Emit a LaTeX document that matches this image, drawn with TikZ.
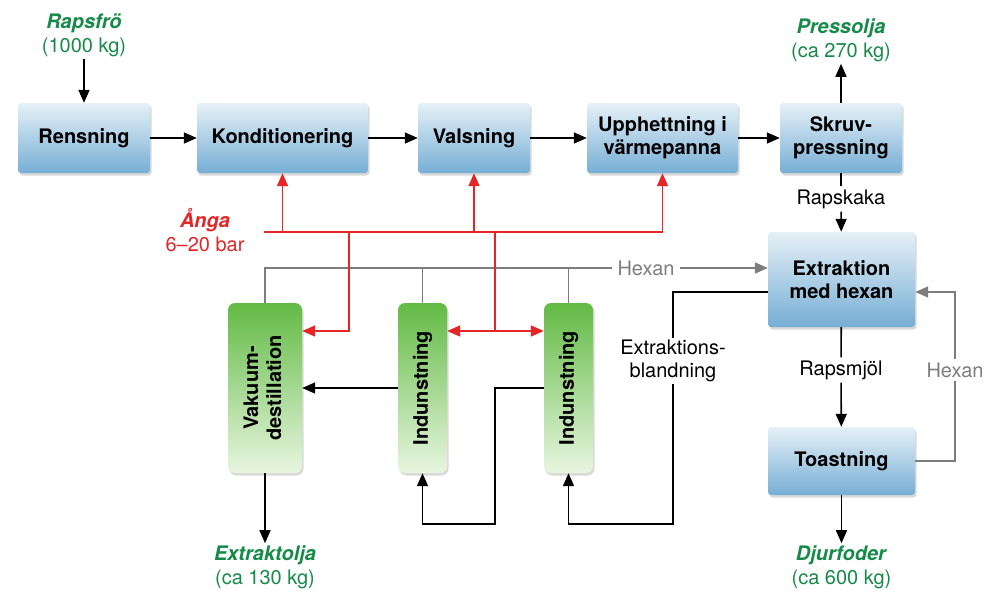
\documentclass[tikz,border=0pt]{standalone}
\usepackage{fontspec}
\setmainfont{TeX Gyre Heros}
\usepackage{graphicx}
\usetikzlibrary{%
    arrows.meta,%
    calc,%
    shadows%
}

\definecolor{boxtop}{RGB}{230,241,248}
\definecolor{boxbot}{RGB}{118,174,212}
\definecolor{grtop}{RGB}{98,186,68}
\definecolor{grmid}{RGB}{125,200,100}
\definecolor{grbot}{RGB}{232,246,224}
\definecolor{prodgreen}{RGB}{22,138,72}
\definecolor{steamred}{RGB}{228,38,38}
\definecolor{hexgray}{RGB}{125,125,125}

\tikzset{
    steg/.style = {top color=boxtop, bottom color=boxbot, rounded corners=3pt,
        minimum height=70, inner sep=0pt, align=center,
        font=\fontsize{20}{23}\selectfont\bfseries,
        drop shadow={opacity=0.3, shadow xshift=1.5pt, shadow yshift=-2.5pt}},
    kolonn/.style = {top color=grtop, middle color=grmid, bottom color=grbot, rounded corners=7pt,
        minimum height=170, inner sep=0pt,
        font=\fontsize{20}{23}\selectfont\bfseries,
        drop shadow={opacity=0.3, shadow xshift=1.5pt, shadow yshift=-2.5pt}},
    produkt/.style = {text=prodgreen, align=center, inner sep=2pt,
        font=\fontsize{20}{24}\selectfont},
    etikett/.style = {align=center, inner sep=3pt, font=\fontsize{20}{23}\selectfont},
    flode/.style = {draw=black, line width=1.6pt},
    hexlinje/.style = {draw=hexgray, line width=1.6pt},
    angledning/.style = {draw=steamred, line width=1.6pt}
}

\begin{document}
\begin{tikzpicture}[x=1pt, y=-1pt, >={Triangle[length=13pt,width=11pt]}]
\useasboundingbox (0,0) rectangle (986,592);

%processteg
\node[steg, minimum width=132] (rensning) at (84,138) {Rensning};
\node[steg, minimum width=171] (kond) at (282.5,138) {Konditionering};
\node[steg, minimum width=112] (valsning) at (474,138) {Valsning};
\node[steg, minimum width=151] (upph) at (662.5,138) {Upphettning i\\värmepanna};
\node[steg, minimum width=122] (skruv) at (841,138) {Skruv-\\pressning};
\node[steg, minimum width=147, minimum height=95] (extr) at (841.5,279.5) {Extraktion\\med hexan};
\node[steg, minimum width=147, minimum height=68] (toast) at (841.5,461) {Toastning};

%kolonner
\node[kolonn, minimum width=74] (vakuum) at (265,388) {\rotatebox{90}{\begin{tabular}{@{}c@{}}Vakuum-\\destillation\end{tabular}}};
\node[kolonn, minimum width=49] (indun1) at (422.5,388) {\rotatebox{90}{Indunstning}};
\node[kolonn, minimum width=49] (indun2) at (568.5,388) {\rotatebox{90}{Indunstning}};

%in och ut
\node[produkt] (rapsfro) at (84,35) {\textbf{\textit{Rapsfrö}}\\(1000 kg)};
\node[produkt] (pressolja) at (841,40) {\textbf{\textit{Pressolja}}\\(ca 270 kg)};
\node[produkt] (extraktolja) at (265,567) {\textbf{\textit{Extraktolja}}\\(ca 130 kg)};
\node[produkt] (djurfoder) at (841.5,567) {\textbf{\textit{Djurfoder}}\\(ca 600 kg)};
\node[produkt, text=steamred] (angatext) at (205,230) {\textbf{\textit{Ånga}}\\6–20 bar};

%etiketter
\node[etikett] (rapskaka) at (841,199) {Rapskaka};
\node[etikett] (rapsmjol) at (841,370) {Rapsmjöl};
\node[etikett, inner sep=2pt] (blandning) at (673,361) {Extraktions-\\blandning};
\node[etikett, text=hexgray, inner sep=5pt] (hexan1) at (646,268) {Hexan};
\node[etikett, text=hexgray] (hexan2) at (955,370) {Hexan};

\coordinate (s0) at (264,232);
\coordinate (s1) at (349,232);
\coordinate (s2) at (495,232);
\coordinate (s3) at (495,331);
\coordinate (b1) at (495,524);
\coordinate (b2) at (673,524);

%hexan
\draw[hexlinje] (vakuum.north) |- (hexan1.west);
\draw[hexlinje,->] (hexan1.east) -- ($(extr.west)+(0,-11.5)$);
\draw[hexlinje] (indun1.north) -- (indun1.north |- hexan1.west);
\draw[hexlinje] (indun2.north) -- (indun2.north |- hexan1.west);
\draw[hexlinje] (toast.east) -| (hexan2.south);
\draw[hexlinje,->] (hexan2.north) |- ($(extr.east)+(0,12.5)$);

%anga
\draw[angledning,->] (s0) -| (upph.south);
\draw[angledning,->] (kond.south |- s0) -- (kond.south);
\draw[angledning,->] (valsning.south |- s0) -- (valsning.south);
\draw[angledning,->] (s1) |- ($(vakuum.east)+(0,-57)$);
\draw[angledning,->] (s2) -- (s3) -- (indun1.east |- s3);
\draw[angledning,->] (s3) -- (indun2.west |- s3);

%flode
\draw[flode,->] (rapsfro) -- (rensning);
\draw[flode,->] (rensning) -- (kond);
\draw[flode,->] (kond) -- (valsning);
\draw[flode,->] (valsning) -- (upph);
\draw[flode,->] (upph) -- (skruv);
\draw[flode,->] (skruv) -- (pressolja);
\draw[flode] (skruv) -- (rapskaka);
\draw[flode,->] (rapskaka) -- (extr);
\draw[flode] (extr) -- (rapsmjol);
\draw[flode,->] (rapsmjol) -- (toast);
\draw[flode,->] (toast) -- (djurfoder);
\draw[flode] ($(extr.west)+(0,12.5)$) -| (blandning.north);
\draw[flode,->] (blandning.south) -- (b2) -| (indun2.south);
\draw[flode,->] (indun2.west) -| (b1) -| (indun1.south);
\draw[flode,->] (indun1) -- (vakuum);
\draw[flode,->] (vakuum) -- (extraktolja);

\end{tikzpicture}
\end{document}
